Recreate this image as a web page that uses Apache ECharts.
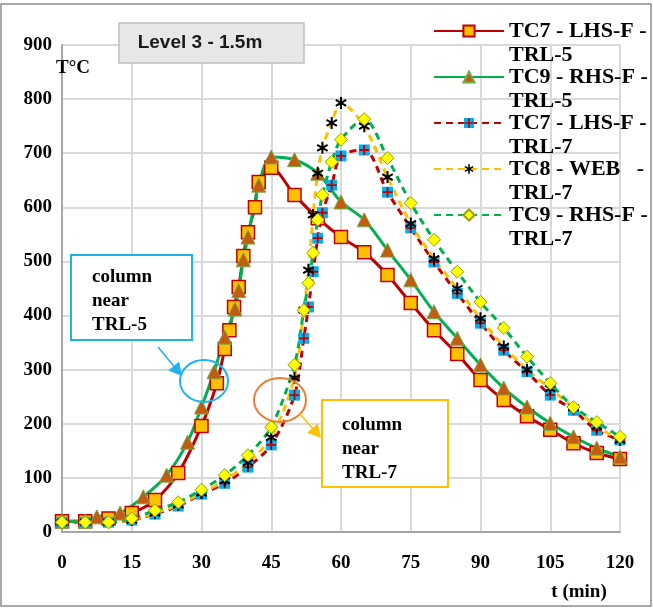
<!DOCTYPE html>
<html>
<head>
<meta charset="utf-8">
<script src="https://cdn.jsdelivr.net/npm/echarts@6/dist/echarts.min.js"></script>
<style>
  html, body { margin: 0; padding: 0; background: #fff; }
  #main { width: 653px; height: 608px; }
</style>
</head>
<body>
<div id="main"></div>
<script>
// data (t in min, T in °C)
var tTC7trl5 = [0, 5, 10, 15, 20, 25, 30, 33.3, 35, 36, 37, 38, 39, 40, 41.5, 42.3, 45, 50, 55, 60, 65, 70, 75, 80, 85, 90, 95, 100, 105, 110, 115, 120];
var vTC7trl5 = [20, 20, 25, 35, 59, 109, 196, 275, 338, 373, 416, 453, 510, 554, 600, 647, 673, 623, 580, 545, 517, 475, 423, 373, 329, 281, 244, 214, 189, 164, 146, 135];

var tTC9trl5 = [0, 5, 7.5, 12.5, 17.5, 22.5, 27, 30, 32.7, 35, 37.2, 38, 39, 40, 42.3, 45, 50, 55, 60, 65, 70, 75, 80, 85, 90, 95, 100, 105, 110, 115, 120];
var vTC9trl5 = [20, 20, 28, 35, 65, 105, 166, 231, 296, 360, 412, 446, 503, 545, 641, 693, 688, 663, 610, 577, 521, 466, 407, 358, 309, 266, 231, 201, 176, 155, 139];

var tTRL7 = [0, 5, 10, 15, 20, 25, 30, 35, 40, 45, 50, 52, 53, 54, 55, 56, 58, 60, 65, 70, 75, 80, 85, 90, 95, 100, 105, 110, 115, 120];
var vTC7trl7 = [18, 18, 18, 22, 33, 48, 70, 90, 120, 161, 253, 358, 416, 481, 543, 590, 641, 695, 706, 628, 562, 499, 441, 386, 336, 296, 253, 225, 188, 170];
var vTC8trl7 = [18, 18, 18, 22, 35, 50, 72, 95, 128, 175, 285, 410, 484, 586, 663, 710, 756, 793, 750, 656, 570, 505, 450, 395, 343, 300, 265, 230, 195, 170];
var vTC9trl7 = [18, 18, 18, 25, 40, 55, 78, 105, 142, 194, 309, 410, 460, 516, 577, 623, 684, 725, 763, 691, 608, 540, 481, 425, 377, 324, 275, 231, 203, 176];

var seriesNames = ['TC7 - LHS-F - TRL-5', 'TC9 - RHS-F - TRL-5', 'TC7 - LHS-F - TRL-7', 'TC8 - WEB   - TRL-7', 'TC9 - RHS-F - TRL-7'];
var xTicks = [0, 120, 15];
var yTicks = [0, 900, 100];

function pairs(ts, vs) {
    var out = [];
    for (var i = 0; i < ts.length; i++) out.push([ts[i], vs[i]]);
    return out;
}
function svgSymbol(svg) {
    return 'image://data:image/svg+xml;charset=utf-8,' + encodeURIComponent(svg);
}
var blueCross = svgSymbol("<svg xmlns='http://www.w3.org/2000/svg' width='12' height='12'><rect x='0.5' y='0.5' width='11' height='11' fill='#00b0f0'/><path d='M6 1V11M1 6H11' stroke='#c00000' stroke-width='1.8'/></svg>");
var asterisk = svgSymbol("<svg xmlns='http://www.w3.org/2000/svg' width='14' height='14'><path d='M7 1V13M1.8 4L12.2 10M1.8 10L12.2 4' stroke='#000' stroke-width='2'/></svg>");

var serif = 'Liberation Serif';

function arrow(x1, y1, x2, y2, color) {
    var a = Math.atan2(y2 - y1, x2 - x1), L = 13, W = 7;
    var bx = x2 - L * Math.cos(a), by = y2 - L * Math.sin(a);
    return [
        { type: 'line', shape: { x1: x1, y1: y1, x2: bx, y2: by }, style: { stroke: color, lineWidth: 1.5 } },
        { type: 'polygon', shape: { points: [[x2, y2], [bx + W * Math.sin(a), by - W * Math.cos(a)], [bx - W * Math.sin(a), by + W * Math.cos(a)]] }, style: { fill: color } }
    ];
}

var myChart = echarts.init(document.getElementById('main'));

var graphics = [
    { type: 'rect', shape: { x: 1, y: 4, width: 650, height: 602 }, style: { fill: 'none', stroke: '#8c8c8c', lineWidth: 1.5 }, z: 0 },
    // title box
    { type: 'rect', shape: { x: 119, y: 23, width: 185, height: 40 }, style: { fill: '#e7e7e7', stroke: '#bfbfbf', lineWidth: 1.5 }, z: 10 },
    { type: 'text', x: 200, y: 43, style: { text: 'Level 3 - 1.5m', font: 'bold 19px "Liberation Sans"', fill: '#1a1a1a', align: 'center', verticalAlign: 'middle' }, z: 11 },
    // axis names
    { type: 'text', x: 73, y: 68, style: { text: 'T°C', font: 'bold 19px "' + serif + '"', fill: '#000', align: 'center', verticalAlign: 'middle' }, z: 11 },
    { type: 'text', x: 579, y: 592, style: { text: 't (min)', font: 'bold 19px "' + serif + '"', fill: '#000', align: 'center', verticalAlign: 'middle' }, z: 11 },
    // callouts
    { type: 'rect', shape: { x: 71, y: 255, width: 121, height: 85 }, style: { fill: '#fff', stroke: '#1fb3ec', lineWidth: 2 }, z: 10 },
    { type: 'text', x: 92, y: 265, style: { text: 'column\nnear\nTRL-5', font: 'bold 19px "' + serif + '"', lineHeight: 24, fill: '#000' }, z: 11 },
    { type: 'ellipse', shape: { cx: 204, cy: 381, rx: 24, ry: 21 }, style: { fill: 'none', stroke: '#1fb3ec', lineWidth: 2 }, z: 10 },
    { type: 'rect', shape: { x: 322, y: 400, width: 126, height: 87 }, style: { fill: '#fff', stroke: '#ffc000', lineWidth: 2 }, z: 10 },
    { type: 'text', x: 342, y: 413, style: { text: 'column\nnear\nTRL-7', font: 'bold 19px "' + serif + '"', lineHeight: 24, fill: '#000' }, z: 11 },
    { type: 'ellipse', shape: { cx: 280, cy: 400, rx: 26, ry: 22 }, style: { fill: 'none', stroke: '#ed7d31', lineWidth: 2 }, z: 10 }
];
arrow(158, 347, 182, 376, '#1fb3ec').concat(arrow(300, 414, 321, 438, '#ffc000')).forEach(function (g) {
    g.z = 10;
    graphics.push(g);
});

option = {
    backgroundColor: '#FFFFFF',
    animation: false,
    grid: { left: 62, right: 33, top: 45, bottom: 76 },
    legend: {
        orient: 'vertical',
        left: 433,
        top: -5,
        padding: 0,
        itemGap: -26,
        itemWidth: 70,
        itemHeight: 14,
        // empty first line so the icon sits on the first visible line
        formatter: function (name) {
            return '\n' + name.replace(/ - TRL/, ' -\nTRL');
        },
        textStyle: {
            fontFamily: serif,
            fontWeight: 'bold',
            fontSize: 22,
            lineHeight: 24,
            color: '#000'
        },
        data: seriesNames
    },
    xAxis: {
        type: 'value',
        min: xTicks[0],
        max: xTicks[1],
        interval: xTicks[2],
        axisLine: { lineStyle: { color: '#a6a6a6', width: 2 } },
        axisTick: { show: false },
        axisLabel: { margin: 22, fontFamily: serif, fontWeight: 'bold', fontSize: 19, color: '#000' },
        splitLine: { show: true, lineStyle: { color: '#d9d9d9', width: 2 } }
    },
    yAxis: {
        type: 'value',
        min: yTicks[0],
        max: yTicks[1],
        interval: yTicks[2],
        axisLine: { show: true, lineStyle: { color: '#a6a6a6', width: 2 } },
        axisTick: { show: false },
        axisLabel: { margin: 10, fontFamily: serif, fontWeight: 'bold', fontSize: 19, color: '#000' },
        splitLine: { show: true, lineStyle: { color: '#d9d9d9', width: 2 } }
    },
    graphic: graphics,
    series: [
        {
            name: seriesNames[0], type: 'line', smooth: 0.3,
            data: pairs(tTC7trl5, vTC7trl5),
            symbol: 'rect', symbolSize: 13,
            lineStyle: { color: '#c00000', width: 3 },
            itemStyle: { color: '#ffc000', borderColor: '#c00000', borderWidth: 1.5 }
        },
        {
            name: seriesNames[1], type: 'line', smooth: 0.3,
            data: pairs(tTC9trl5, vTC9trl5),
            symbol: 'triangle', symbolSize: 14,
            lineStyle: { color: '#00b050', width: 3 },
            itemStyle: { color: '#c55a11', borderColor: '#70ad47', borderWidth: 1 }
        },
        {
            name: seriesNames[2], type: 'line', smooth: 0.3,
            data: pairs(tTRL7, vTC7trl7),
            symbol: blueCross, symbolSize: 12,
            lineStyle: { color: '#c00000', width: 3, type: [7, 5] },
            itemStyle: { color: '#c00000' }
        },
        {
            name: seriesNames[3], type: 'line', smooth: 0.3,
            data: pairs(tTRL7, vTC8trl7),
            symbol: asterisk, symbolSize: 14,
            lineStyle: { color: '#ffc000', width: 3, type: [7, 5] },
            itemStyle: { color: '#ffc000' }
        },
        {
            name: seriesNames[4], type: 'line', smooth: 0.3,
            data: pairs(tTRL7, vTC9trl7),
            symbol: 'diamond', symbolSize: 13,
            lineStyle: { color: '#00b050', width: 3, type: [7, 5] },
            itemStyle: { color: '#ffff00', borderColor: '#92a000', borderWidth: 1 }
        }
    ]
};
myChart.setOption(option, true);
</script>
</body>
</html>
